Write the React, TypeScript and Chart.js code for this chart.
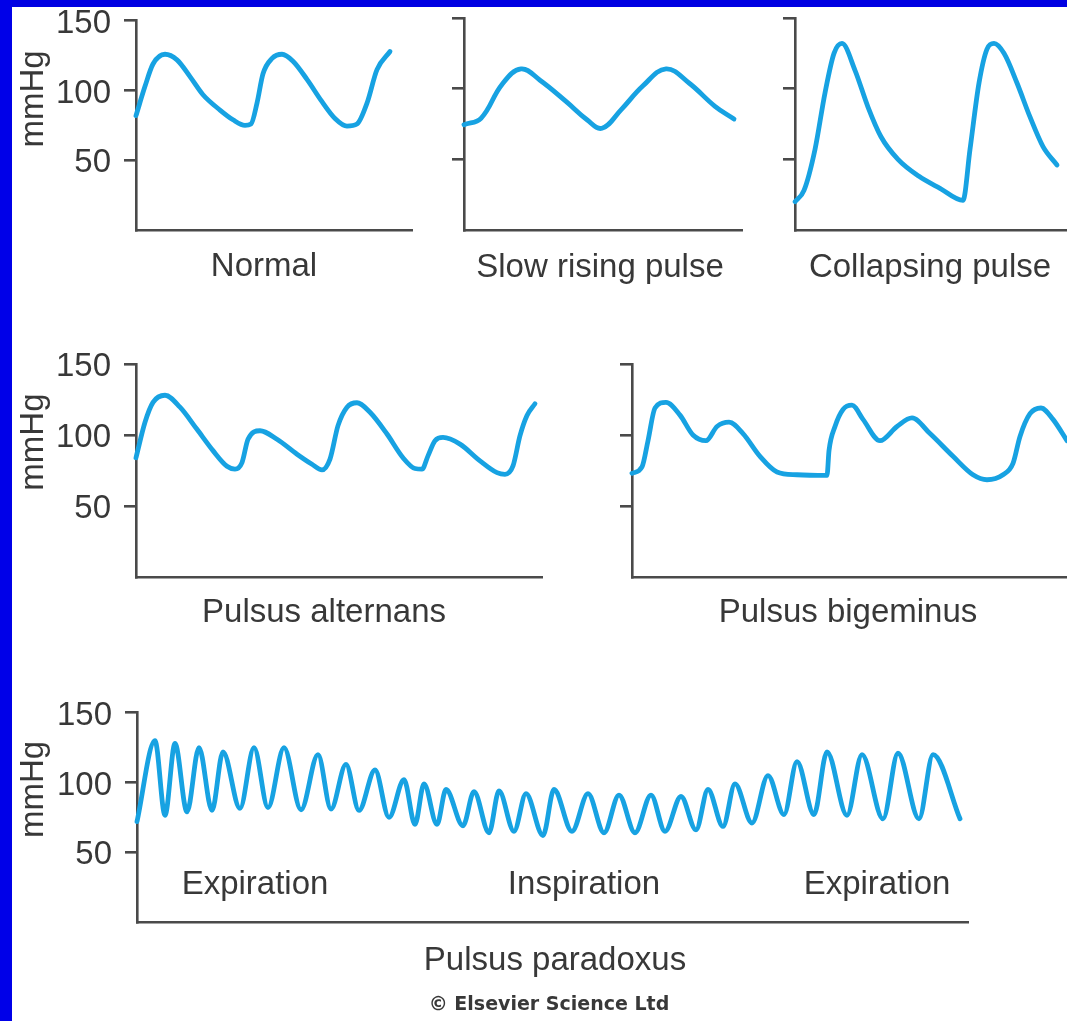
import React, { useEffect, useRef } from 'react';
import { Chart, registerables } from 'chart.js';

Chart.register(...registerables);

// ---------------- data (time in arbitrary units, pressure in mmHg) ----------------
const Y_TICKS = [50, 100, 150];
const Y_TITLE = 'mmHg';
const PANEL_TITLES = ['Normal', 'Slow rising pulse', 'Collapsing pulse', 'Pulsus alternans', 'Pulsus bigeminus', 'Pulsus paradoxus'];
const PHASE_LABELS = ['Expiration', 'Inspiration', 'Expiration'];
const CREDIT = '\u00A9 Elsevier Science Ltd';

const normalTime = [0, 0.09, 0.17, 0.29, 0.41, 0.54, 0.67, 0.84, 0.97, 1.09, 1.15, 1.21, 1.27, 1.36, 1.46, 1.57, 1.71, 1.86, 1.99, 2.11, 2.21, 2.31, 2.41, 2.54];
const normalPressure = [82, 103, 119, 126, 122, 110, 97, 86, 79, 75, 76, 91, 112, 123, 126, 121, 108, 92, 80, 74.5, 76, 91, 115, 128];

const slowTime = [0, 0.17, 0.38, 0.57, 0.76, 1.02, 1.23, 1.38, 1.57, 1.79, 2.02, 2.25, 2.51, 2.70];
const slowPressure = [74.5, 79, 103, 114, 106, 91, 78, 72, 85, 102, 114, 104, 87.5, 78.5];

const collapsingTime = [0, 0.09, 0.20, 0.30, 0.39, 0.47, 0.60, 0.73, 0.86, 1.03, 1.24, 1.45, 1.68, 1.75, 1.84, 1.92, 1.99, 2.09, 2.22, 2.35, 2.48, 2.62];
const collapsingPressure = [20, 28, 57, 97, 125, 132, 113, 87, 66, 50, 38, 29.5, 21, 57, 104, 128, 132, 125, 104, 80, 59, 46];

const alternansTime = [0, 0.09, 0.17, 0.29, 0.44, 0.61, 0.77, 0.91, 0.99, 1.06, 1.12, 1.24, 1.41, 1.61, 1.76, 1.86, 1.94, 2.02, 2.11, 2.21, 2.34, 2.51, 2.67, 2.79, 2.86, 2.92, 2.99, 3.07, 3.24, 3.44, 3.61, 3.69, 3.77, 3.84, 3.91, 3.99];
const alternansPressure = [84, 109, 123, 128, 119.6, 104, 89, 78, 76, 80.6, 97, 103, 97, 86.5, 79.4, 75.4, 83, 106.6, 119.6, 122.7, 116, 100.7, 84, 76.4, 76, 85.3, 96, 98.3, 93.6, 81.8, 73.5, 72.3, 78.2, 99.5, 113.7, 122];

const bigeminusTime = [0, 0.10, 0.16, 0.23, 0.34, 0.48, 0.61, 0.74, 0.85, 0.97, 1.11, 1.28, 1.45, 1.65, 1.95, 1.97, 2.03, 2.11, 2.20, 2.31, 2.48, 2.65, 2.80, 2.98, 3.21, 3.41, 3.55, 3.71, 3.81, 3.88, 3.98, 4.09, 4.21, 4.35];
const bigeminusPressure = [73, 77.5, 96, 119, 123, 114, 100, 96, 106, 109, 101, 85, 74, 72, 71.5, 89, 106, 118, 121, 111, 96, 106, 112, 101, 85, 72, 68.5, 72, 80, 99, 115, 119, 111, 96];

const paradoxusTime = [0, 0.18, 0.28, 0.38, 0.50, 0.62, 0.75, 0.86, 1.03, 1.17, 1.31, 1.47, 1.64, 1.81, 1.94, 2.09, 2.22, 2.38, 2.52, 2.67, 2.78, 2.87, 3.00, 3.09, 3.26, 3.37, 3.52, 3.62, 3.77, 3.89, 4.06, 4.17, 4.35, 4.51, 4.67, 4.82, 4.98, 5.14, 5.28, 5.44, 5.59, 5.71, 5.86, 5.98, 6.15, 6.31, 6.47, 6.60, 6.77, 6.90, 7.10, 7.25, 7.46, 7.61, 7.82, 7.96, 8.23];
const paradoxusPressure = [72, 130, 76.5, 128, 79, 125, 80, 122, 81.5, 125, 82, 125, 80.5, 120, 81, 113, 80, 109, 75, 102, 70, 99, 70, 95, 69, 93.5, 64, 94, 65, 92, 62, 95, 65, 92, 64, 91, 64, 91, 65, 90, 66, 95, 68.5, 99, 71, 105, 77, 115, 77, 122, 76.5, 120, 74, 121, 74, 120, 74];

// ---------------- styles ----------------
const LINE_COLOR = '#17a2e2';
const AXIS_COLOR = '#4a4a4a';
const TEXT_COLOR = '#383838';
const FONT_FAMILY = "'Liberation Sans', Arial, sans-serif";
const CAPTION_FONT = `33px ${FONT_FAMILY}`;
const CREDIT_FONT = "bold 19px 'DejaVu Sans', Verdana, sans-serif";

type Caption = { text: string; t?: number; dy?: number; dx?: number; v?: number; rotate?: boolean; font?: string };

type PanelSpec = {
  left: number; top: number; width: number; height: number;
  yWidth: number; xHeight: number; padTop: number; padRight: number;
  xMax: number; times: number[]; values: number[]; showLabels: boolean;
  smooth: 'spline' | 'monotone';
  captions: Caption[];
};

function makeTextPlugin(captions: Caption[]) {
  return {
    id: 'panelText',
    afterDraw(chart: any) {
      const { ctx, chartArea, scales } = chart;
      for (const c of captions) {
        ctx.save();
        ctx.font = c.font || CAPTION_FONT;
        ctx.fillStyle = TEXT_COLOR;
        ctx.textAlign = 'center';
        ctx.textBaseline = 'alphabetic';
        if (c.rotate) {
          const x = chartArea.left + (c.dx || 0);
          const y = scales.y.getPixelForValue(c.v || 0);
          ctx.translate(x, y);
          ctx.rotate(-Math.PI / 2);
          ctx.fillText(c.text, 0, 0);
        } else {
          const x = scales.x.getPixelForValue(c.t || 0);
          const y = chartArea.bottom + (c.dy || 0);
          ctx.fillText(c.text, x, y);
        }
        ctx.restore();
      }
    },
  };
}

function Panel({ spec }: { spec: PanelSpec }) {
  const ref = useRef<HTMLCanvasElement>(null);
  useEffect(() => {
    const canvas = ref.current;
    if (!canvas) return;
    const points = spec.times.map((t, i) => ({ x: t, y: spec.values[i] }));
    const chart = new Chart(canvas, {
      type: 'line',
      data: {
        datasets: [
          {
            data: points,
            borderColor: LINE_COLOR,
            borderWidth: 4.8,
            pointRadius: 0,
            cubicInterpolationMode: spec.smooth === 'monotone' ? 'monotone' : 'default',
            tension: spec.smooth === 'monotone' ? 0 : 0.4,
            fill: false,
            clip: false as any,
            borderCapStyle: 'round',
            borderJoinStyle: 'round',
          } as any,
        ],
      },
      options: {
        animation: false,
        responsive: false,
        events: [],
        layout: { padding: { top: spec.padTop, right: spec.padRight, left: 0, bottom: 0 } },
        plugins: { legend: { display: false }, tooltip: { enabled: false }, title: { display: false } },
        scales: {
          x: {
            type: 'linear',
            min: 0,
            max: spec.xMax,
            ticks: { display: false },
            grid: { display: false },
            border: { display: true, color: AXIS_COLOR, width: 2.6 },
            afterFit: (s: any) => { s.height = spec.xHeight; },
          },
          y: {
            type: 'linear',
            min: 0,
            max: 150,
            afterBuildTicks: (s: any) => { s.ticks = Y_TICKS.map((v) => ({ value: v })); },
            ticks: {
              display: spec.showLabels,
              padding: 13,
              labelOffset: 3,
              color: TEXT_COLOR,
              font: { family: FONT_FAMILY, size: 33 },
            },
            grid: { display: true, drawOnChartArea: false, drawTicks: true, tickLength: 12, color: AXIS_COLOR, lineWidth: 2.6 },
            border: { display: true, color: AXIS_COLOR, width: 2.6 },
            afterFit: (s: any) => { s.width = spec.yWidth; },
          },
        },
      } as any,
      plugins: [makeTextPlugin(spec.captions) as any],
    });
    return () => chart.destroy();
  }, []);
  return (
    <canvas
      ref={ref}
      width={spec.width}
      height={spec.height}
      style={{ position: 'absolute', left: spec.left, top: spec.top, width: spec.width, height: spec.height }}
    />
  );
}

const yTitle = (v: number, dx: number): Caption => ({ text: Y_TITLE, rotate: true, dx, v });

const PANELS: PanelSpec[] = [
  {
    left: 0, top: -12, width: 414, height: 312, yWidth: 136, xHeight: 70, padTop: 30, padRight: 2,
    xMax: 2.76, times: normalTime, values: normalPressure, showLabels: true, smooth: 'monotone',
    captions: [yTitle(94, -93), { text: PANEL_TITLES[0], t: 1.28, dy: 46 }],
  },
  {
    left: 430, top: -12, width: 314, height: 312, yWidth: 34, xHeight: 70, padTop: 30, padRight: 2,
    xMax: 2.78, times: slowTime, values: slowPressure, showLabels: false, smooth: 'spline',
    captions: [{ text: PANEL_TITLES[1], t: 1.36, dy: 47 }],
  },
  {
    left: 770, top: -12, width: 310, height: 312, yWidth: 25, xHeight: 70, padTop: 30, padRight: 0,
    xMax: 2.85, times: collapsingTime, values: collapsingPressure, showLabels: false, smooth: 'monotone',
    captions: [{ text: PANEL_TITLES[2], t: 1.35, dy: 47 }],
  },
  {
    left: 0, top: 330, width: 544, height: 315, yWidth: 136, xHeight: 68, padTop: 34, padRight: 2,
    xMax: 4.06, times: alternansTime, values: alternansPressure, showLabels: true, smooth: 'monotone',
    captions: [yTitle(95, -93), { text: PANEL_TITLES[3], t: 1.88, dy: 45 }],
  },
  {
    left: 600, top: 330, width: 480, height: 315, yWidth: 32, xHeight: 68, padTop: 34, padRight: 0,
    xMax: 4.48, times: bigeminusTime, values: bigeminusPressure, showLabels: false, smooth: 'monotone',
    captions: [{ text: PANEL_TITLES[4], t: 2.16, dy: 45 }],
  },
  {
    left: 0, top: 680, width: 970, height: 341, yWidth: 137, xHeight: 99, padTop: 31, padRight: 2,
    xMax: 8.31, times: paradoxusTime, values: paradoxusPressure, showLabels: true, smooth: 'monotone',
    captions: [
      yTitle(95, -94),
      { text: PHASE_LABELS[0], t: 1.18, dy: -28 },
      { text: PHASE_LABELS[1], t: 4.47, dy: -28 },
      { text: PHASE_LABELS[2], t: 7.40, dy: -28 },
      { text: PANEL_TITLES[5], t: 4.18, dy: 48 },
      { text: CREDIT, t: 4.12, dy: 88, font: CREDIT_FONT },
    ],
  },
];

export default function App() {
  return (
    <div
      style={{
        position: 'absolute', left: 0, top: 0, width: 1067, height: 1021,
        overflow: 'hidden', background: '#ffffff',
      }}
    >
      {PANELS.map((p, i) => (
        <Panel key={i} spec={p} />
      ))}
      <div style={{ position: 'absolute', left: 0, top: 0, width: 1067, height: 7, background: '#0000e2' }} />
      <div style={{ position: 'absolute', left: 0, top: 0, width: 12, height: 1021, background: '#0000e8' }} />
    </div>
  );
}
